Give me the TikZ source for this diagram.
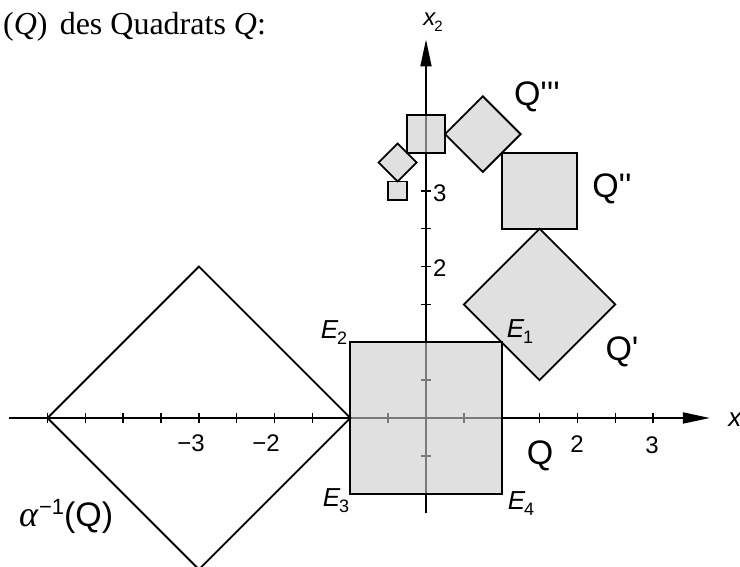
\documentclass[tikz,border=0pt]{standalone}
\usepackage{fontspec}
\setmainfont{Liberation Serif}
\newfontfamily\lsans{Liberation Sans}[Ligatures=TeXOff]
\usetikzlibrary{arrows.meta}
\newcommand{\Esub}[1]{{\lsans\itshape E}\kern-1pt\raisebox{-6pt}{\lsans\fontsize{18}{18}\selectfont #1}}
\newcommand{\Qlab}[1]{{\lsans\fontsize{34}{34}\selectfont Q#1}}
\tikzset{
  axis/.style={line width=1.8pt, -{Triangle[length=27pt,width=11pt]}},
  tickmark/.style={line width=1.4pt},
  shapefill/.style={fill=black!20, fill opacity=0.6, draw=none},
  outline/.style={line width=1.8pt, line join=miter},
  lab/.style={inner sep=0pt, font=\lsans\fontsize{24}{24}\selectfont},
  elab/.style={inner sep=0pt, font=\fontsize{26}{26}\selectfont},
}
\begin{document}
\begin{tikzpicture}[x=75.7pt,y=75.7pt]
\useasboundingbox (-426pt,-149pt) rectangle (314pt,418pt);
% axes
\coordinate (xs) at (-5.51,0);
\coordinate (xe) at (3.75,0);
\coordinate (ys) at (0,-1.255);
\coordinate (ye) at (0,5);
\draw[axis] (xs) -- (xe);
\draw[axis] (ys) -- (ye);
\foreach \t in {-5,-4.5,-4,-3.5,-3,-2.5,-2,-1.5,-1,-0.5,0.5,1,1.5,2,2.5,3}
  \draw[tickmark] (\t,0) ++(0,-5pt) -- ++(0,10pt);
\foreach \t in {-0.5,0.5,1.5,2,2.5,3,3.5}
  \draw[tickmark] (0,\t) ++(-5pt,0) -- ++(10pt,0);
% fills (semi-transparent over axes)
\path[shapefill] (-1,-1) rectangle (1,1);
\path[shapefill] (1.5,0.5) -- (2.5,1.5) -- (1.5,2.5) -- (0.5,1.5) -- cycle;
\path[shapefill] (1,2.5) rectangle (2,3.5);
\path[shapefill] (0.75,3.25) -- (1.25,3.75) -- (0.75,4.25) -- (0.25,3.75) -- cycle;
\path[shapefill] (-0.25,3.5) rectangle (0.25,4);
\path[shapefill] (-0.375,3.125) -- (-0.125,3.375) -- (-0.375,3.625) -- (-0.625,3.375) -- cycle;
\path[shapefill] (-0.5,2.875) rectangle (-0.25,3.125);
% outlines
\draw[outline] (-1,-1) rectangle (1,1);
\draw[outline] (1.5,0.5) -- (2.5,1.5) -- (1.5,2.5) -- (0.5,1.5) -- cycle;
\draw[outline] (1,2.5) rectangle (2,3.5);
\draw[outline] (0.75,3.25) -- (1.25,3.75) -- (0.75,4.25) -- (0.25,3.75) -- cycle;
\draw[outline] (-0.25,3.5) rectangle (0.25,4);
\draw[outline] (-0.375,3.125) -- (-0.125,3.375) -- (-0.375,3.625) -- (-0.625,3.375) -- cycle;
\draw[outline] (-0.5,2.875) rectangle (-0.25,3.125);
\draw[outline] (-5,0) -- (-3,2) -- (-1,0) -- (-3,-2) -- cycle;
% axis labels
\node[lab, font=\lsans\itshape\fontsize{26}{26}\selectfont] (xlab) at (309pt,-2pt) {x};
\node[inner sep=0pt] (x2lab) at (7pt,396pt) {{\lsans\itshape\fontsize{24}{24}\selectfont x}\kern-1pt\raisebox{-6pt}{\lsans\fontsize{15}{15}\selectfont 2}};
\node[lab] (tm3) at (-235pt,-25pt) {−3};
\node[lab] (tm2) at (-160pt,-25pt) {−2};
\node[lab] (tp2) at (151pt,-26pt) {2};
\node[lab] (tp3) at (226pt,-27pt) {3};
\node[lab, anchor=west] (ty2) at (7pt,150pt) {2};
\node[lab, anchor=west] (ty3) at (7pt,225pt) {3};
% corner labels
\node[elab] (e1) at (94pt,86pt) {\Esub{1}};
\node[elab] (e2) at (-92pt,85pt) {\Esub{2}};
\node[elab] (e3) at (-90pt,-83pt) {\Esub{3}};
\node[elab] (e4) at (95pt,-86pt) {\Esub{4}};
% square labels
\node[inner sep=0pt] (q0) at (114pt,-38pt) {\Qlab{}};
\node[inner sep=0pt] (q1) at (196pt,66pt) {\Qlab{'}};
\node[inner sep=0pt] (q2) at (186pt,229pt) {\Qlab{''}};
\node[inner sep=0pt] (q3) at (111pt,321pt) {\Qlab{'''}};
\node[inner sep=0pt, anchor=west] (alab) at (-407pt,-98pt) {{\fontsize{36}{36}\selectfont\itshape α}\kern1pt\raisebox{12pt}{\lsans\fontsize{22}{22}\selectfont −1}{\lsans\fontsize{34}{34}\selectfont(Q)}};
% heading
\node[inner sep=0pt, anchor=base west, font=\fontsize{32}{32}\selectfont] (head) at (-423pt,383pt) {(\textit{Q})\hspace{0.38em}des Quadrats \textit{Q}:};
\end{tikzpicture}
\end{document}
